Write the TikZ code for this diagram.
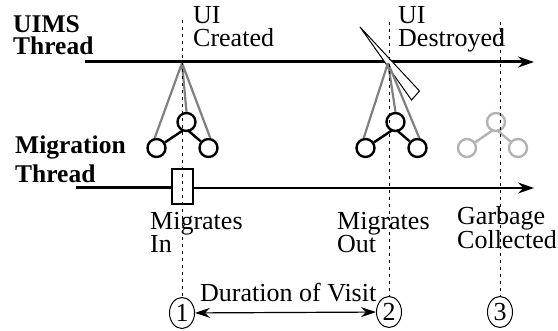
\documentclass[tikz,border=0pt]{standalone}
\usepackage{fontspec}
\setmainfont{Liberation Serif}
\usetikzlibrary{arrows.meta,shapes.geometric,calc}

\definecolor{faded}{gray}{0.7}

\begin{document}
\begin{tikzpicture}[x=1pt,y=-1pt,
  txt/.style={font=\fontsize{26}{22}\selectfont, align=left, inner sep=0, anchor=base west},
  head/.style={txt, font=\fontsize{25.5}{22}\selectfont\bfseries},
  vtx/.style={circle, draw, line width=2.4pt, minimum size=18pt, inner sep=0},
  num/.style={ellipse, draw, line width=1pt, minimum width=25pt, minimum height=31pt, inner sep=0, font=\fontsize{26}{22}\selectfont},
  link/.style={draw=gray, line width=2.2pt},
  guide/.style={dash pattern=on 3pt off 4pt, line width=1pt},
  tip/.style={-{Stealth[length=16pt,width=11pt]}}]
  \useasboundingbox (0,0) rectangle (558,331);

  % threads
  \coordinate (us) at (85,62);
  \coordinate (ue) at (534,62);
  \coordinate (ms) at (76,188);
  \coordinate (me) at (534,188);
  \node [draw, line width=1.2pt, minimum width=21pt, minimum height=35pt, inner sep=0] (box) at (182.5,186.5) {};
  \draw [tip, line width=3pt] (us) -- (ue);
  \draw [line width=3pt] (ms) -- (box.west |- ms);
  \draw [tip, line width=1.5pt] (box.east |- me) -- (me);

  \node [head] (uims) at (13,55) {UIMS\\Thread};
  \node [head] (mig) at (15,183) {Migration\\[5pt]Thread};

  % knife
  \draw [fill=white, line width=1pt] (360,27) -- (411.5,100) -- (419.5,91) -- cycle;

  % ui trees
  \coordinate (a1) at (182,63);
  \coordinate (a2) at (388,63);
  \foreach \n/\x in {1/186.5, 2/395.5} {
    \node [vtx] (t\n) at (\x,122) {};
    \node [vtx] (l\n) at ($(t\n)+(-30,26)$) {};
    \node [vtx] (r\n) at ($(t\n)+(22,26)$) {};
    \coordinate (tl\n) at ($(t\n)+(-3,8)$);
    \coordinate (tr\n) at ($(t\n)+(1,8)$);
    \draw [line width=2.4pt] (l\n) -- (tl\n) (tr\n) -- (r\n);
    \draw [link] (a\n) -- (l\n.100) (a\n) -- (t\n.north) (a\n) -- (r\n.80);
  }
  \node [vtx, draw=faded] (t3) at (496,122) {};
  \node [vtx, draw=faded] (l3) at ($(t3)+(-29,26)$) {};
  \node [vtx, draw=faded] (r3) at ($(t3)+(22,26)$) {};
  \coordinate (tl3) at ($(t3)+(-3,8)$);
  \coordinate (tr3) at ($(t3)+(1,8)$);
  \draw [faded, line width=2.4pt] (l3) -- (tl3) (tr3) -- (r3);

  % events
  \node [num] (c1) at (182,313) {1};
  \node [num] (c2) at (389,312) {2};
  \node [num] (c3) at (500,312) {3};
  \coordinate (g1) at (182,20);
  \coordinate (g2) at (389,22);
  \coordinate (g3) at (500,22);
  \foreach \n in {1,2,3}
    \draw [guide] (g\n) -- (c\n);
  \draw [{Stealth[length=15pt,width=10pt]}-{Stealth[length=15pt,width=10pt]}, line width=1.2pt] (c1) -- (c2);

  \node [txt] (created) at (193,47) {UI\\[1pt]Created};
  \node [txt] (destroyed) at (398,47) {UI\\[1pt]Destroyed};
  \node [txt] (in) at (150,253) {Migrates\\In};
  \node [txt] (out) at (337,253) {Migrates\\Out};
  \node [txt] (gc) at (457,249) {Garbage\\Collected};
  \node [txt] (visit) at (200,302) {Duration of Visit};
\end{tikzpicture}
\end{document}
